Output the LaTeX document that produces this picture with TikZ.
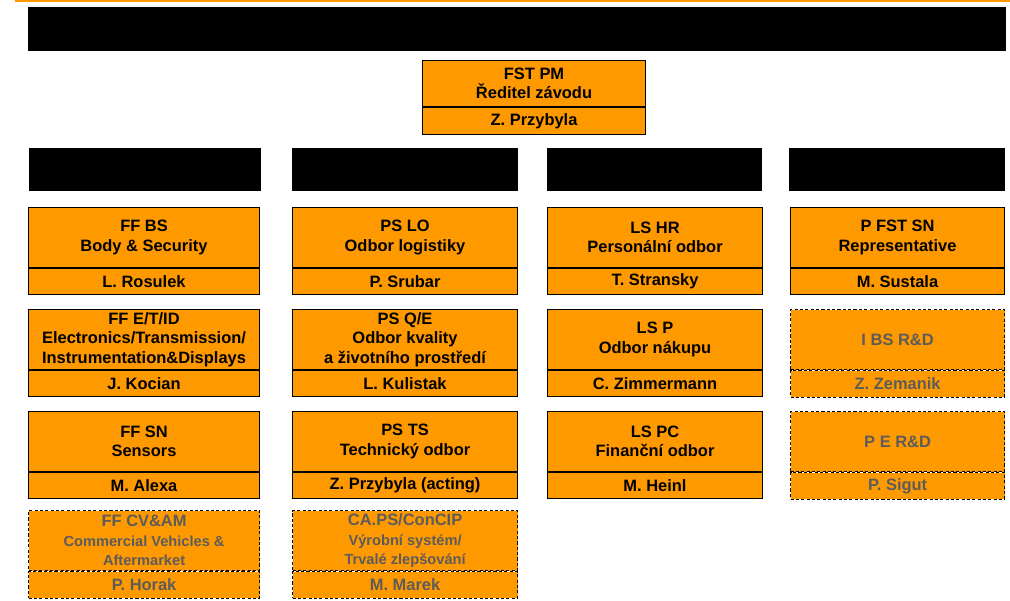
\documentclass[tikz,border=0pt]{standalone}
\usepackage{fontspec}
\setmainfont{Liberation Sans}
\usetikzlibrary{positioning}
\definecolor{fstorange}{HTML}{FF9900}
\definecolor{vacant}{HTML}{5C5C5C}
\newcommand{\smalltxt}[1]{{\fontsize{10.4}{12.5}\selectfont #1}}

\tikzset{
  cell/.style={draw=black, fill=fstorange, line width=0.7pt, inner sep=0pt, align=center,
    font=\fontsize{11.7}{13.8}\selectfont\bfseries},
  title/.style={cell, minimum height=1.5cm, anchor=north west},
  person/.style={cell, minimum height=0.66cm},
  open/.style={draw=black, line width=0.8pt, dash pattern=on 2.2pt off 1.6pt, text=vacant},
  head/.style={fill=black, inner sep=0pt, minimum height=1.075cm, anchor=north west},
  c1/.style={minimum width=5.775cm},
  c2/.style={minimum width=5.625cm},
  c3/.style={minimum width=5.375cm},
  c4/.style={minimum width=5.35cm}
}

\begin{document}
\begin{tikzpicture}[x=0.025cm, y=-0.025cm]
\useasboundingbox (0,0) rectangle (1010,600);
\draw[fstorange, line width=1.4pt] (15,1) -- (1010,1);
\node[head, minimum width=24.425cm, minimum height=1.1cm] (bar) at (28,7) {};

% plant manager
\node[cell, anchor=north west, minimum width=5.575cm, minimum height=1.15cm] (pm) at (422,60) {FST PM\\Ředitel závodu};
\node[person, minimum width=5.575cm, minimum height=0.675cm, below=0pt of pm] (pmp) {Z. Przybyla};

% column heads
\node[head, minimum width=5.8cm] (hd1) at (29,148) {};
\node[head, minimum width=5.65cm] (hd2) at (292,148) {};
\node[head, minimum width=5.375cm] (hd3) at (547,148) {};
\node[head, minimum width=5.4cm] (hd4) at (789,148) {};

% first column
\node[title, c1] (ffbs) at (28,207) {FF BS\\Body \& Security};
\node[person, c1, below=0pt of ffbs] (ffbsp) {L. Rosulek};
\node[title, c1] (ffet) at (28,309) {FF E/T/ID\\Electronics/Transmission/\\Instrumentation\&Displays};
\node[person, c1, below=0pt of ffet] (ffetp) {J. Kocian};
\node[title, c1] (ffsn) at (28,411) {FF SN\\Sensors};
\node[person, c1, below=0pt of ffsn] (ffsnp) {M. Alexa};
\node[title, c1, open] (ffcv) at (28,510) {FF CV\&AM\\\smalltxt{Commercial Vehicles \&}\\\smalltxt{Aftermarket}};
\node[person, c1, open, below=0pt of ffcv] (ffcvp) {P. Horak};

% second column
\node[title, c2] (pslo) at (292,207) {PS LO\\Odbor logistiky};
\node[person, c2, below=0pt of pslo] (pslop) {P. Srubar};
\node[title, c2] (psqe) at (292,309) {PS Q/E\\Odbor kvality\\a životního prostředí};
\node[person, c2, below=0pt of psqe] (psqep) {L. Kulistak};
\node[title, c2] (psts) at (292,411) {PS TS\\Technický odbor};
\node[person, c2, below=0pt of psts] (pstsp) {Z. Przybyla (acting)};
\node[title, c2, open] (caps) at (292,510) {CA.PS/ConCIP\\\smalltxt{Výrobní systém/}\\\smalltxt{Trvalé zlepšování}};
\node[person, c2, open, below=0pt of caps] (capsp) {M. Marek};

% third column
\node[title, c3] (lshr) at (547,207) {LS HR\\Personální odbor};
\node[person, c3, below=0pt of lshr] (lshrp) {T. Stransky};
\node[title, c3] (lsp) at (547,309) {LS P\\Odbor nákupu};
\node[person, c3, below=0pt of lsp] (lspp) {C. Zimmermann};
\node[title, c3] (lspc) at (547,411) {LS PC\\Finanční odbor};
\node[person, c3, below=0pt of lspc] (lspcp) {M. Heinl};

% fourth column
\node[title, c4] (pfst) at (790,207) {P FST SN\\Representative};
\node[person, c4, below=0pt of pfst] (pfstp) {M. Sustala};
\node[title, c4, open] (ibs) at (790,309) {I BS R\&D};
\node[person, c4, open, below=0pt of ibs] (ibsp) {Z. Zemanik};
\node[title, c4, open] (pe) at (790,411) {P E R\&D};
\node[person, c4, open, below=0pt of pe] (pep) {P. Sigut};
\end{tikzpicture}
\end{document}
